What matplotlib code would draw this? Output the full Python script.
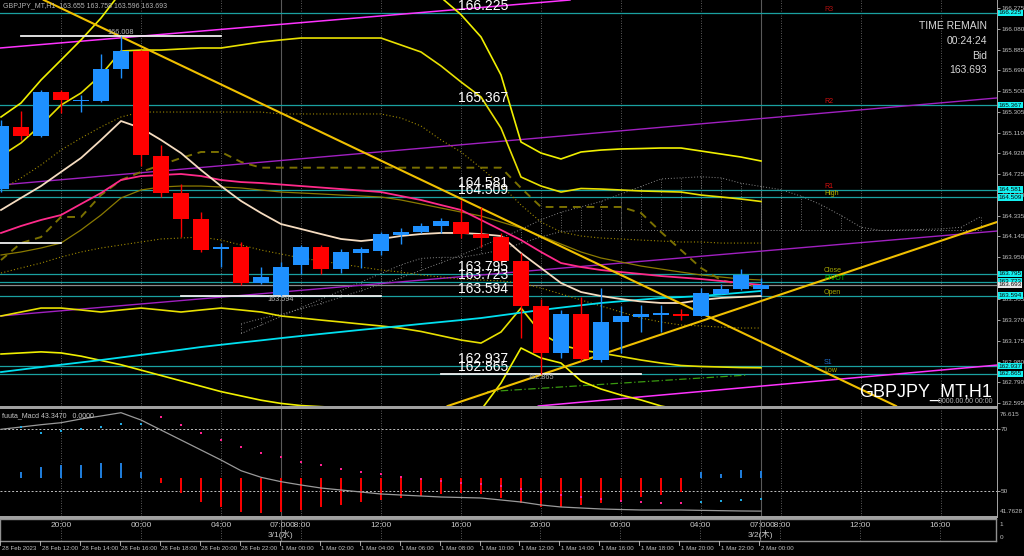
import matplotlib
matplotlib.use("Agg")
import matplotlib.pyplot as plt
import matplotlib.transforms as mtransforms
from matplotlib.patches import Rectangle
from matplotlib.lines import Line2D
import numpy as np

W, H = 1024, 556

# GBPJPY H1 candles, 28 Feb 10:00 .. 2 Mar 00:00
opens = [164.586, 165.166, 165.080, 165.489, 165.405, 165.408, 165.701, 165.874, 164.893, 164.549,
         164.307, 164.025, 164.049, 163.708, 163.600, 163.879, 164.043, 163.839, 163.993, 164.012,
         164.158, 164.189, 164.245, 164.282, 164.165, 164.137, 163.916, 163.497, 163.062, 163.420,
         162.994, 163.351, 163.397, 163.416, 163.420, 163.404, 163.609, 163.655, 163.655]
highs = [165.229, 165.313, 165.508, 165.508, 165.461, 165.843, 166.008, 165.880, 164.996, 164.633,
         164.375, 164.083, 164.093, 163.860, 163.909, 164.065, 164.065, 164.028, 164.049, 164.189,
         164.220, 164.267, 164.313, 164.484, 164.421, 164.174, 163.988, 163.560, 163.460, 163.583,
         163.662, 163.497, 163.506, 163.506, 163.466, 163.662, 163.702, 163.839, 163.758]
lows = [164.558, 165.043, 165.070, 165.294, 165.303, 165.399, 165.623, 164.800, 164.515, 164.142,
        164.002, 163.860, 163.692, 163.702, 163.594, 163.795, 163.795, 163.804, 163.851, 163.972,
        164.071, 164.174, 164.174, 164.130, 164.049, 163.907, 163.199, 162.865, 163.010, 162.985,
        162.975, 163.059, 163.258, 163.258, 163.367, 163.404, 163.609, 163.650, 163.596]
closes = [165.176, 165.080, 165.489, 165.415, 165.410, 165.704, 165.874, 164.900, 164.549, 164.307,
          164.018, 164.049, 163.708, 163.764, 163.857, 164.043, 163.839, 164.002, 164.025, 164.167,
          164.189, 164.245, 164.288, 164.165, 164.130, 163.916, 163.497, 163.062, 163.420, 163.001,
          163.351, 163.407, 163.420, 163.429, 163.407, 163.621, 163.655, 163.783, 163.693]

# moving averages
ma_fast = [164.391, 164.503, 164.614, 164.745, 164.875, 165.043, 165.219, 165.154, 165.043, 164.921,
           164.763, 164.614, 164.475, 164.363, 164.260, 164.214, 164.167, 164.121, 164.102, 164.121,
           164.149, 164.167, 164.177, 164.177, 164.167, 164.149, 163.990, 163.851, 163.711, 163.627,
           163.590, 163.562, 163.539, 163.525, 163.525, 163.553, 163.572, 163.581, 163.590]
ma_mid = [164.177, 164.242, 164.298, 164.344, 164.447, 164.549, 164.670, 164.707, 164.717, 164.726,
          164.707, 164.670, 164.651, 164.642, 164.628, 164.614, 164.600, 164.586, 164.572, 164.558,
          164.521, 164.484, 164.437, 164.391, 164.298, 164.205, 164.111, 164.000, 163.897, 163.860,
          163.832, 163.813, 163.795, 163.776, 163.762, 163.748, 163.730, 163.711, 163.693]
ma_slow = [162.882, 162.905, 162.928, 162.950, 162.972, 162.994, 163.018, 163.042, 163.066, 163.090,
           163.115, 163.136, 163.157, 163.177, 163.198, 163.218, 163.237, 163.256, 163.275, 163.293,
           163.311, 163.330, 163.348, 163.366, 163.385, 163.410, 163.435, 163.460, 163.482, 163.504,
           163.525, 163.541, 163.556, 163.571, 163.580, 163.590, 163.605, 163.621, 163.637]

# envelope bands
band_up2 = [165.257, 165.387, 165.601, 165.787, 165.974, 166.178, 166.420, 166.520, 166.600, 166.650,
            166.680, 166.680, 166.660, 166.620, 166.580, 166.550, 166.520, 166.500, 166.480, 166.450,
            166.420, 166.390, 166.370, 166.210, 166.002, 165.648, 165.024, 164.921, 164.866, 164.931,
            164.949, 164.959, 164.963, 164.968, 164.968, 164.940, 164.912, 164.884, 164.847]
band_up1 = [164.894, 165.015, 165.182, 165.368, 165.480, 165.648, 165.871, 165.880, 165.880, 165.890,
            165.899, 165.899, 165.927, 165.955, 165.974, 165.992, 165.992, 165.992, 165.992, 165.992,
            165.927, 165.862, 165.732, 165.583, 165.443, 165.154, 164.698, 164.614, 164.558, 164.591,
            164.586, 164.577, 164.568, 164.563, 164.558, 164.530, 164.512, 164.493, 164.470]
band_dn1 = [163.404, 163.441, 163.478, 163.478, 163.460, 163.441, 163.460, 163.478, 163.460, 163.441,
            163.460, 163.478, 163.460, 163.441, 163.404, 163.385, 163.366, 163.348, 163.329, 163.311,
            163.290, 163.260, 163.220, 163.180, 163.152, 163.255, 163.478, 163.245, 163.134, 163.087,
            163.059, 163.027, 162.994, 162.966, 162.943, 162.934, 162.929, 162.924, 162.922]
band_dn2 = [163.050, 163.060, 163.070, 163.060, 163.030, 162.990, 162.950, 162.900, 162.850, 162.800,
            162.750, 162.700, 162.660, 162.620, 162.590, 162.570, 162.560, 162.550, 162.540, 162.530,
            162.520, 162.510, 162.500, 162.510, 162.529, 162.780, 163.106, 163.013, 162.966, 162.799,
            162.724, 162.668, 162.622, 162.566, 162.530, 162.500, 162.480, 162.460, 162.450]

# ichimoku style lines
kijun = [163.972, 164.000, 164.037, 164.083, 164.205, 164.344, 164.503, 164.577, 164.605, 164.614,
         164.614, 164.605, 164.596, 164.577, 164.558, 164.549, 164.540, 164.530, 164.521, 164.512,
         164.484, 164.447, 164.409, 164.372, 164.335, 164.279, 164.223, 164.149, 164.074, 164.000,
         163.944, 163.907, 163.869, 163.841, 163.813, 163.786, 163.767, 163.748, 163.739]
tenkan = [163.925, 164.083, 164.139, 164.326, 164.326, 164.530, 164.670, 164.745, 164.810, 164.875,
          164.931, 164.931, 164.838, 164.785, 164.785, 164.785, 164.785, 164.785, 164.785, 164.785,
          164.785, 164.785, 164.785, 164.785, 164.785, 164.785, 164.596, 164.419, 164.419, 164.419,
          164.419, 164.419, 164.363, 164.186, 164.018, 163.851, 163.739, 163.692, 163.683]
dot_hi = [164.577, 164.689, 164.810, 164.949, 165.061, 165.164, 165.257, 165.303, 165.303, 165.303,
          165.303, 165.303, 165.303, 165.303, 165.285, 165.285, 165.285, 165.285, 165.285, 165.285,
          165.247, 165.173, 165.043, 164.931, 164.782, 164.623, 164.437, 164.279, 164.186, 164.149,
          164.130, 164.121, 164.111, 164.102, 164.093, 164.093, 164.083, 164.083, 164.083]
dot_lo = [163.804, 163.851, 163.897, 163.953, 164.000, 164.037, 164.065, 164.093, 164.121, 164.130,
          164.139, 164.111, 164.065, 164.018, 163.981, 163.944, 163.916, 163.888, 163.860, 163.832,
          163.813, 163.786, 163.767, 163.748, 163.739, 163.730, 163.711, 163.664, 163.609, 163.553,
          163.497, 163.441, 163.385, 163.348, 163.320, 163.311, 163.301, 163.292, 163.292]

# cloud (shifted forward)
cloud_idx = list(range(12, 50))
span_a = [163.330, 163.380, 163.420, 163.470, 163.520, 163.580, 163.640, 163.700, 163.760, 163.830,
          163.900, 163.970, 164.050, 164.130, 164.210, 164.300, 164.370, 164.420, 164.470, 164.540,
          164.610, 164.680, 164.690, 164.700, 164.690, 164.640, 164.610, 164.580, 164.520, 164.440,
          164.340, 164.230, 164.200, 164.205, 164.210, 164.215, 164.230, 164.330]
span_b = [163.240, 163.320, 163.400, 163.480, 163.560, 163.640, 163.720, 163.800, 163.880, 163.940,
          163.950, 163.950, 163.980, 164.020, 164.080, 164.140, 164.190, 164.200, 164.200, 164.200,
          164.200, 164.200, 164.200, 164.200, 164.200, 164.200, 164.200, 164.200, 164.200, 164.200,
          164.200, 164.200, 164.200, 164.200, 164.200, 164.200, 164.200, 164.200]

# horizontal levels (pivot set)
level_prices = [166.225, 165.367, 164.581, 164.509, 163.795, 163.723, 163.594, 162.937, 162.865]
level_names = ["R3", "R2", "R1", "High", "Close", "PIVOT", "Open", "S1", "Low"]
level_colors = ["#b01010", "#d01010", "#e01010", "#b8b800", "#a8a800", "#00c000", "#a8a800", "#1e6ecc", "#a8a800"]
bid = 163.693

# trend lines: (index, price) pairs
trend_down = [(5.95, 166.008), (44.75, 162.566)]
trend_up = [(26.95, 162.854), (49.8, 164.279)]
chan_top = [(-0.05, 165.899), (28.45, 166.346)]
chan_mid = [(-0.05, 164.623), (49.8, 165.434)]
chan_low = [(-0.05, 163.404), (49.8, 164.195)]
chan_bot = [(27.95, 162.584), (49.8, 162.947)]
green_line = [(24.3, 162.699), (37.3, 162.854)]

# swing extremes: (center index, price, label above?)
swings = [(-2, 164.081, True), (6, 166.008, True), (14, 163.594, False), (27, 162.865, False)]

price_ticks = [166.275, 166.080, 165.885, 165.690, 165.500, 165.305, 165.110, 164.920, 164.725,
               164.530, 164.335, 164.145, 163.950, 163.565, 163.370, 163.175, 162.980, 162.790, 162.595]

# oscillator panel
osc_base = 54.04
osc_hist = [54.04, 56.19, 57.63, 58.38, 58.38, 58.93, 59.12, 56.19, 52.42, 49.16,
            46.42, 44.60, 43.16, 42.64, 43.16, 43.80, 44.60, 45.40, 46.20, 47.00,
            47.60, 48.20, 48.80, 49.40, 49.00, 47.60, 46.00, 44.80, 44.60, 45.20,
            46.00, 47.00, 47.80, 48.60, 49.60, 56.00, 55.40, 56.60, 56.40]
osc_line = [70.00, 70.75, 71.50, 72.15, 73.36, 74.34, 75.41, 73.03, 69.77, 66.52,
            63.26, 60.00, 56.52, 54.37, 52.94, 51.86, 50.88, 50.23, 49.58, 48.93,
            48.60, 48.28, 47.95, 47.79, 47.63, 46.98, 46.32, 45.35, 44.70, 44.37,
            44.05, 43.88, 43.72, 43.72, 43.72, 43.60, 43.50, 43.40, 43.35]
osc_dots = [None, 70.66, 68.80, 69.45, 70.10, 70.85, 71.73, 71.73, 74.11, 71.31,
            68.70, 66.52, 64.34, 62.38, 60.88, 59.50, 58.30, 57.20, 56.20, 55.30,
            54.50, 53.80, 53.20, 52.60, 52.20, 51.50, 50.60, 49.50, 48.60, 47.90,
            47.30, 46.80, 46.40, 46.10, 45.90, 46.20, 46.60, 47.00, 47.30]

bottom_labels = ["28 Feb 2023", "28 Feb 12:00", "28 Feb 14:00", "28 Feb 16:00", "28 Feb 18:00",
                 "28 Feb 20:00", "28 Feb 22:00", "1 Mar 00:00", "1 Mar 02:00", "1 Mar 04:00",
                 "1 Mar 06:00", "1 Mar 08:00", "1 Mar 10:00", "1 Mar 12:00", "1 Mar 14:00",
                 "1 Mar 16:00", "1 Mar 18:00", "1 Mar 20:00", "1 Mar 22:00", "2 Mar 00:00"]
jst_idx = [3, 7, 11, 15, 19, 23, 27, 31, 35, 39, 43, 47]
jst_labels = ["20:00", "00:00", "04:00", "08:00", "12:00", "16:00",
              "20:00", "00:00", "04:00", "08:00", "12:00", "16:00"]
day_idx = [14, 38]
day_labels = ["3/1(水)", "3/2(木)"]

BG = "black"
GRID = "#7a7a7a"
TXT = "#c8c8c8"
BULL = "#1e90ff"
BEAR = "#ff0000"
LEVEL = "#1aa0a0"

x = np.arange(len(closes))
XMIN, XMAX = -0.05, 49.8


def ax_px(x0, y0, x1, y1):
    return fig.add_axes([x0 / W, 1 - y1 / H, (x1 - x0) / W, (y1 - y0) / H])


def clean(ax):
    ax.set_facecolor(BG)
    for s in ax.spines.values():
        s.set_visible(False)
    ax.set_xticks([])
    ax.set_yticks([])
    ax.set_xlim(XMIN, XMAX)


plt.rcParams["font.family"] = ["Liberation Sans", "Noto Sans CJK JP", "DejaVu Sans"]
fig = plt.figure(figsize=(W / 100, H / 100), dpi=100, facecolor=BG)

# ---------------- main price panel ----------------
ax = ax_px(0, 0, 997, 406)
clean(ax)
ax.set_ylim(162.566, 166.346)

for gi in jst_idx:
    ax.axvline(gi, color=GRID, lw=0.6, ls=(0, (1, 2)), zorder=1)
for di in day_idx:
    ax.axvline(di, color="#5a5a5a", lw=0.8, zorder=1)

# cloud hatch
for ci, a, b in zip(cloud_idx, span_a, span_b):
    ax.plot([ci, ci], [a, b], color="#8a8a8a", lw=0.6, ls=(0, (1, 2)), zorder=2)
ax.plot(cloud_idx, span_a, color="#8a8a8a", lw=0.7, ls=(0, (1, 2)), zorder=2)
ax.plot(cloud_idx, span_b, color="#8a8a8a", lw=0.7, ls=(0, (1, 2)), zorder=2)

for lv in level_prices:
    ax.axhline(lv, color=LEVEL, lw=0.9, zorder=3)
ax.axhline(bid, color="#8c8c8c", lw=0.9, zorder=3)

for pts, col, lw in [(chan_top, "#ff33ff", 1.1), (chan_mid, "#a020c0", 1.0),
                     (chan_low, "#a020c0", 1.0), (chan_bot, "#ff33ff", 1.1)]:
    ax.axline(pts[0], pts[1], color=col, lw=lw, zorder=3)

ax.plot(x, dot_hi, color="#a08a00", lw=0.8, ls=(0, (1, 2)), zorder=3)
ax.plot(x, dot_lo, color="#a08a00", lw=0.8, ls=(0, (1, 2)), zorder=3)
ax.plot(x, kijun, color="#8a7a00", lw=0.9, zorder=3)
ax.plot(x, tenkan, color="#7a7000", lw=1.4, ls=(0, (4, 3)), zorder=3)
ax.plot([p[0] for p in green_line], [p[1] for p in green_line], color="#3a9a10", lw=0.9,
        ls=(0, (6, 2, 1, 2)), zorder=3)

ax.plot(x, band_up2, color="#f0f000", lw=1.2, zorder=4)
ax.plot(x, band_up1, color="#e8e000", lw=1.2, zorder=4)
ax.plot(x, band_dn1, color="#e8e000", lw=1.2, zorder=4)
ax.plot(x, band_dn2, color="#f0f000", lw=1.2, zorder=4)

ax.plot(x, ma_slow, color="#00e0f0", lw=1.3, zorder=4)
ax.plot(x, ma_mid, color="#ff2a8a", lw=1.3, zorder=4)
ax.plot(x, ma_fast, color="#f5dcc0", lw=1.3, zorder=4)

for pts in (trend_down, trend_up):
    ax.axline(pts[0], pts[1], color="#f0c000", lw=1.5, zorder=5)

# swing high/low markers (labels only for swings inside the window)
for si, sp, above in swings:
    ax.plot([si - 5, si + 5], [sp, sp], color="#f0f0f0", lw=1.3, zorder=5)
    if si >= 0:
        ax.text(si, sp, f"{sp:.3f}", color="#b4b4b4", fontsize=5.2, ha="center",
                va="bottom" if above else "top", zorder=6)

# candles
for i in x:
    o, h, l, c = opens[i], highs[i], lows[i], closes[i]
    col = BULL if c >= o else BEAR
    ax.vlines(i, l, h, color=col, lw=1.0, zorder=6)
    ax.bar(i, max(abs(c - o), 0.012), bottom=min(o, c), width=0.78, color=col, zorder=7)

# big level labels
for lv in level_prices:
    ax.text(22.85, lv, f"{lv:.3f}", color="white", fontsize=10, ha="left", va="bottom", zorder=8)
for lv, nm, col in zip(level_prices, level_names, level_colors):
    ax.text(41.15, lv, nm, color=col, fontsize=5, ha="left", va="bottom", zorder=8)

# right price scale
ax.yaxis.tick_right()
ax.set_yticks(price_ticks)
ax.set_yticklabels([f"{t:.3f}" for t in price_ticks])
ax.tick_params(axis="y", colors="#c0c0c0", labelsize=4.6, length=2, width=0.6, pad=1)
ytr = mtransforms.blended_transform_factory(ax.transAxes, ax.transData)
for lv in level_prices:
    ax.text(1.0015, lv, f"{lv:.3f}", transform=ytr, color="#0a0a0a", fontsize=4.6, va="center",
            ha="left", clip_on=False, zorder=10,
            bbox=dict(boxstyle="square,pad=0.12", fc="#14f0f0", ec="none"))
ax.text(1.0015, bid, f"{bid:.3f}", transform=ytr, color="#0a0a0a", fontsize=4.6, va="center",
        ha="left", clip_on=False, zorder=10,
        bbox=dict(boxstyle="square,pad=0.12", fc="#e8e8e8", ec="none"))

ax.text(0.003, 0.995, f"GBPJPY_MT,H1  {opens[-1]:.3f} {highs[-1]:.3f} {lows[-1]:.3f} {closes[-1]:.3f}",
        transform=ax.transAxes, color="#b4b4b4", fontsize=5, ha="left", va="top", zorder=10)
for k, line in enumerate(["TIME REMAIN", "00:24:24", "Bid", f"{bid:.3f}"]):
    ax.text(0.99, 0.935 - k * 0.036, line, transform=ax.transAxes, color="#d8d8d8", fontsize=7.5,
            ha="right", va="center", zorder=10)
ax.text(0.995, 0.012, "GBPJPY_MT,H1", transform=ax.transAxes, color="white", fontsize=13,
        ha="right", va="bottom", zorder=10)
ax.text(0.995, 0.002, "0000.00.00 00:00", transform=ax.transAxes, color="#b4b4b4", fontsize=5,
        ha="right", va="bottom", zorder=10)

# ---------------- oscillator panel ----------------
ax2 = ax_px(0, 409, 997, 516)
clean(ax2)
ax2.set_ylim(41.7628, 76.615)
for gi in jst_idx:
    ax2.axvline(gi, color=GRID, lw=0.6, ls=(0, (1, 2)))
for di in day_idx:
    ax2.axvline(di, color="#5a5a5a", lw=0.8)
for lvl in (70, 50):
    ax2.axhline(lvl, color="#c0c0c0", lw=0.7, ls=(0, (2, 2)))
for i in x:
    v = osc_hist[i]
    col = "#2080e0" if v >= osc_base else "#ff0000"
    ax2.vlines(i, min(v, osc_base), max(v, osc_base), color=col, lw=1.4)
ax2.plot(x, osc_line, color="#9a9a9a", lw=0.9)
for i in x:
    d = osc_dots[i]
    if d is None:
        continue
    col = "#20a8e0" if osc_hist[i] >= osc_base else "#ff2090"
    ax2.plot(i, d, "s", ms=1.6, color=col, mew=0)
ax2.text(0.002, 0.97, "fuuta_Macd 43.3470   0.0000", transform=ax2.transAxes, color="#c8c8c8",
         fontsize=5, ha="left", va="top")
ax2.yaxis.tick_right()
ax2.set_yticks([70, 50])
ax2.set_yticklabels(["70", "50"])
ax2.tick_params(axis="y", colors="#c0c0c0", labelsize=4.6, length=2, width=0.6, pad=1)
ax2.text(1.003, 0.97, "76.615", transform=ax2.transAxes, color="#c0c0c0", fontsize=4.6, va="top")
ax2.text(1.003, 0.02, "41.7628", transform=ax2.transAxes, color="#c0c0c0", fontsize=4.6, va="bottom")

# ---------------- time panel ----------------
ax3 = ax_px(0, 519, 996, 541)
clean(ax3)
ax3.set_ylim(0, 1)
for s in ax3.spines.values():
    s.set_visible(True)
    s.set_color("#909090")
    s.set_linewidth(1.0)
for gi, lab in zip(jst_idx, jst_labels):
    ax3.axvline(gi, color=GRID, lw=0.6, ls=(0, (1, 2)))
    ax3.text(gi, 0.72, lab, color=TXT, fontsize=6, ha="center", va="center")
for di, lab in zip(day_idx, day_labels):
    ax3.axvline(di, color="#5a5a5a", lw=0.8)
    ax3.text(di, 0.72, "07:00", color=TXT, fontsize=6, ha="center", va="center")
    ax3.text(di, 0.28, lab, color=TXT, fontsize=6, ha="center", va="center")
ax3.text(1.004, 0.75, "1", transform=ax3.transAxes, color="#c0c0c0", fontsize=4.6, va="center")
ax3.text(1.004, 0.15, "0", transform=ax3.transAxes, color="#c0c0c0", fontsize=4.6, va="center")

xtr = mtransforms.blended_transform_factory(ax3.transData, fig.transFigure)
for k, lab in enumerate(bottom_labels):
    xi = 2 * k - 0.05
    fig.add_artist(Line2D([xi, xi], [1 - 541 / H, 1 - 545 / H], transform=xtr, color="#c0c0c0", lw=0.6))
    ax3.text(xi + 0.08, 1 - 548 / H, lab, transform=xtr, color="#c0c0c0", fontsize=4.4,
             ha="left", va="center", clip_on=False)

# panel separators and right border
for y0, y1 in [(406, 408.5), (516, 518.5)]:
    fig.add_artist(Rectangle((0, 1 - y1 / H), 997 / W, (y1 - y0) / H, transform=fig.transFigure,
                             color="#a0a0a0", lw=0))
fig.add_artist(Rectangle((997 / W, 1 - 518 / H), 1 / W, 518 / H, transform=fig.transFigure,
                         color="#a0a0a0", lw=0))

fig.savefig("out.png", dpi=100, facecolor=BG)
